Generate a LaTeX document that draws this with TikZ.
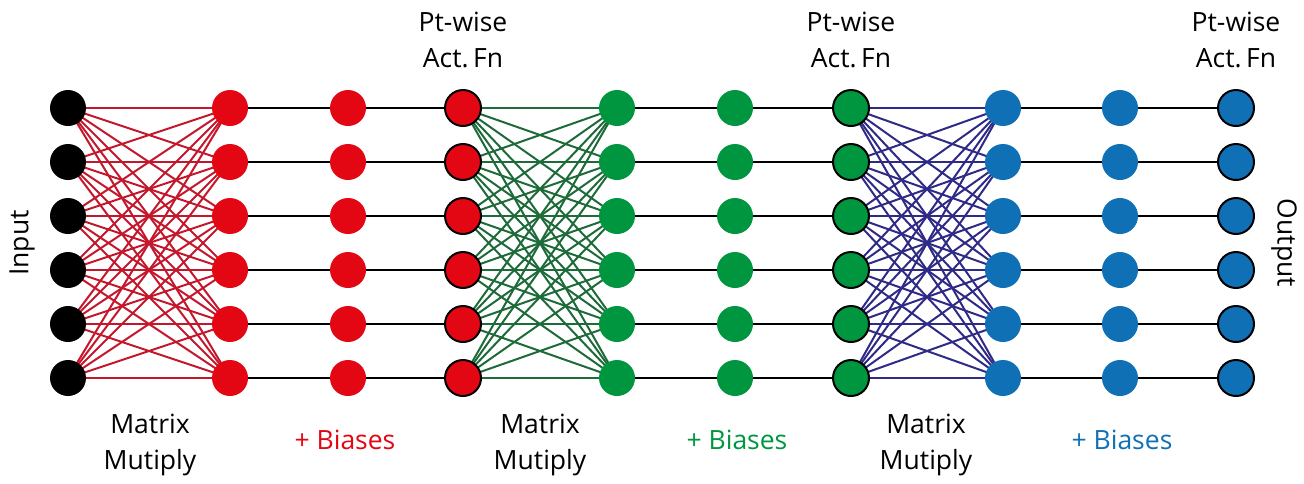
\documentclass[tikz,border=0pt]{standalone}
\usepackage{fontspec}
\setmainfont{Open Sans}
\usetikzlibrary{backgrounds}
\definecolor{nred}{HTML}{E30613}
\definecolor{ngreen}{HTML}{009640}
\definecolor{nblue}{HTML}{1070B5}
\definecolor{ered}{HTML}{C4172C}
\definecolor{egreen}{HTML}{1E6B3A}
\definecolor{eblue}{HTML}{2E2A86}
\tikzset{
  unit/.style={circle, inner sep=0pt, minimum size=36pt},
  actunit/.style={unit, draw=black, line width=2pt, minimum size=36pt},
  wire/.style={line width=2pt, line cap=round},
  hwire/.style={line width=2pt, black},
  lbl/.style={font=\fontsize{26.5}{36}\selectfont, align=center},
}
\begin{document}
\begin{tikzpicture}[x=1pt,y=-1pt]
\useasboundingbox (0,0) rectangle (1304,483);
% column positions and fills
\foreach \c/\x/\st/\col in {1/68/unit/black, 2/230/unit/nred, 3/348/unit/nred, 4/463/actunit/nred,
                            5/617/unit/ngreen, 6/735/unit/ngreen, 7/851/actunit/ngreen,
                            8/1003/unit/nblue, 9/1120/unit/nblue, 10/1236/actunit/nblue}{
  \foreach \r in {1,...,6}{
    \node[\st, fill=\col] (n\c-\r) at (\x, {108+54*(\r-1)}) {};
  }
}
\begin{scope}[on background layer]
  % dense layers
  \foreach \a/\b/\col in {1/2/ered, 4/5/egreen, 7/8/eblue}{
    \foreach \i in {1,...,6}{
      \foreach \j in {1,...,6}{
        \draw[wire, \col] (n\a-\i.center) -- (n\b-\j.center);
      }
    }
  }
  % bias and activation wires
  \foreach \a/\b in {2/3, 3/4, 5/6, 6/7, 8/9, 9/10}{
    \foreach \i in {1,...,6}{
      \draw[hwire] (n\a-\i.center) -- (n\b-\i.center);
    }
  }
\end{scope}
% labels
\foreach \x/\k in {463/a, 851/b, 1236/c}{
  \node[lbl] (act\k) at (\x, 40) {Pt-wise\\Act.\,Fn};
}
\foreach \x/\k in {150/a, 540/b, 926/c}{
  \node[lbl] (mm\k) at (\x, 445) {Matrix\\Mutiply};
}
\node[lbl, text=nred] (ba) at (345, 440) {+ Biases};
\node[lbl, text=ngreen] (bb) at (737, 440) {+ Biases};
\node[lbl, text=nblue] (bc) at (1122, 440) {+ Biases};
\node[lbl, rotate=90] (inp) at (22, 243) {Input};
\node[lbl, rotate=-90] (outp) at (1284, 243) {Output};
\end{tikzpicture}
\end{document}
